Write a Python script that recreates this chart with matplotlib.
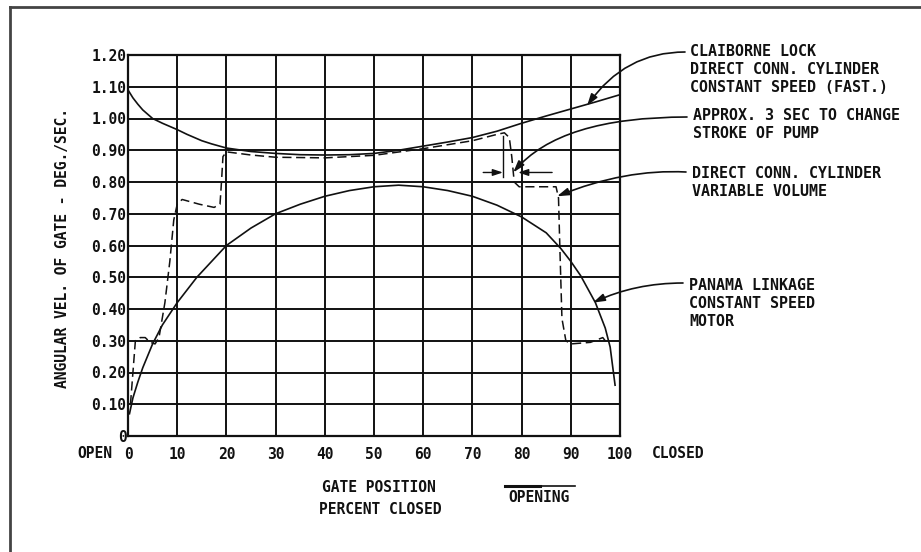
import matplotlib
matplotlib.use("Agg")
import matplotlib.pyplot as plt
from matplotlib.lines import Line2D

# ---------------- data ----------------
x_ticks = [0, 10, 20, 30, 40, 50, 60, 70, 80, 90, 100]
y_ticks = [0, 0.1, 0.2, 0.3, 0.4, 0.5, 0.6, 0.7, 0.8, 0.9, 1.0, 1.1, 1.2]
y_tick_labels = ["0", "0.10", "0.20", "0.30", "0.40", "0.50", "0.60",
                 "0.70", "0.80", "0.90", "1.00", "1.10", "1.20"]

# Claiborne lock - direct conn. cylinder, constant speed (fast)
claiborne_x = [0, 1, 2, 3, 5, 7, 10, 12, 15, 17, 20, 25, 30, 35, 40, 45, 50,
               55, 60, 65, 70, 75, 80, 85, 90, 95, 100]
claiborne_y = [1.09, 1.065, 1.045, 1.027, 1.00, 0.985, 0.965, 0.95, 0.93,
               0.92, 0.907, 0.896, 0.89, 0.886, 0.885, 0.886, 0.89, 0.90,
               0.913, 0.926, 0.94, 0.96, 0.985, 1.008, 1.03, 1.052, 1.075]

# Panama linkage - constant speed motor
panama_x = [0.3, 1, 2, 3, 5, 7, 10, 14, 20, 25, 30, 35, 40, 45, 50, 55, 60,
            65, 70, 75, 80, 85, 88, 90, 92, 95, 97, 98, 99]
panama_y = [0.07, 0.12, 0.17, 0.215, 0.29, 0.35, 0.42, 0.50, 0.60, 0.655,
            0.70, 0.73, 0.755, 0.773, 0.785, 0.79, 0.785, 0.773, 0.755,
            0.727, 0.69, 0.64, 0.59, 0.55, 0.505, 0.42, 0.34, 0.28, 0.16]

# Direct conn. cylinder - variable volume (dashed)
variable_x = [0.5, 1.0, 1.5, 2.5, 3.5, 4.5, 5.5, 6.3, 7.5, 8.5, 9.3, 10.0,
              11, 14.5, 17.5, 18.7, 19.0, 19.3, 20, 25, 30, 40, 50, 60, 70,
              75, 76.5, 77.5, 78.0, 78.5, 79.5, 83, 87, 87.5, 87.8, 88.2,
              89, 90, 94, 96.5, 97.5]
variable_y = [0.10, 0.20, 0.30, 0.31, 0.31, 0.295, 0.29, 0.31, 0.42, 0.55,
              0.68, 0.73, 0.745, 0.73, 0.72, 0.73, 0.80, 0.88, 0.895, 0.885,
              0.878, 0.876, 0.884, 0.905, 0.93, 0.95, 0.955, 0.94, 0.88,
              0.80, 0.785, 0.785, 0.785, 0.75, 0.58, 0.37, 0.30, 0.29,
              0.295, 0.31, 0.29]

# ---------------- figure ----------------
FONT = "DejaVu Sans Mono"
plt.rcParams["font.family"] = [FONT]
plt.rcParams["font.weight"] = "bold"
INK = "#111111"
W, H = 921, 552
fig = plt.figure(figsize=(W / 100, H / 100), dpi=100)
fig.patch.set_facecolor("white")

ax = fig.add_axes([128 / W, 1 - 436 / H, (620 - 128) / W, (436 - 55) / H])
ax.set_xlim(0, 100)
ax.set_ylim(0, 1.2)
ax.set_xticks(x_ticks)
ax.set_xticklabels([str(v) for v in x_ticks], fontweight="bold")
ax.set_yticks(y_ticks)
ax.set_yticklabels(y_tick_labels, fontweight="bold")
ax.tick_params(axis="both", length=0, labelsize=10.5, colors=INK)
ax.tick_params(axis="x", pad=8)
ax.tick_params(axis="y", pad=1)
ax.grid(True, color=INK, linewidth=1.4)
for s in ax.spines.values():
    s.set_color(INK)
    s.set_linewidth(1.6)

ax.plot(claiborne_x, claiborne_y, color=INK, lw=1.2)
ax.plot(panama_x, panama_y, color=INK, lw=1.2)
ax.plot(variable_x, variable_y, color=INK, lw=1.1, linestyle=(0, (6, 3)))

# dimension marker for the 3 sec change
ax.plot([76.2, 76.2], [0.815, 0.945], color=INK, lw=1.0)
ax.annotate("", xy=(76.2, 0.83), xytext=(72.2, 0.83),
            arrowprops=dict(arrowstyle="-|>,head_length=0.6,head_width=0.2",
                            color=INK, lw=1.0, shrinkA=0, shrinkB=0))
ax.annotate("", xy=(79.3, 0.83), xytext=(86.2, 0.83),
            arrowprops=dict(arrowstyle="-|>,head_length=0.6,head_width=0.2",
                            color=INK, lw=1.0, shrinkA=0, shrinkB=0))

# ---------------- annotations ----------------
def fp(xp, yp):
    return (xp, H - yp)

notes = [
    (["CLAIBORNE LOCK", "DIRECT CONN. CYLINDER", "CONSTANT SPEED (FAST.)"],
     690, 52, (685, 52), (93.3, 1.04), "angle3,angleA=0,angleB=55"),
    (["APPROX. 3 SEC TO CHANGE", "STROKE OF PUMP"],
     693, 116, (687, 117), (78.3, 0.83), "angle3,angleA=0,angleB=50"),
    (["DIRECT CONN. CYLINDER", "VARIABLE VOLUME"],
     692, 173, (686, 172), (87.2, 0.755), "angle3,angleA=-3,angleB=22"),
    (["PANAMA LINKAGE", "CONSTANT SPEED", "MOTOR"],
     689, 286, (683, 283), (94.5, 0.42), "angle3,angleA=0,angleB=25"),
]
for lines, tx, ty, start, target, conn in notes:
    for i, ln in enumerate(lines):
        fig.text(tx / W, 1 - (ty + i * 18) / H, ln, fontsize=10.8,
                 fontweight="bold", ha="left", va="center", color=INK)
    ax.annotate("", xy=target, xycoords="data", xytext=fp(*start),
                textcoords="figure pixels",
                arrowprops=dict(arrowstyle="-|>,head_length=0.7,head_width=0.22",
                                color=INK, lw=1.2, shrinkA=0, shrinkB=0,
                                connectionstyle=conn))

# axis end labels
fig.text(95 / W, 1 - 453 / H, "OPEN", fontsize=10.5, fontweight="bold",
         ha="center", va="center", color=INK)
fig.text(678 / W, 1 - 453 / H, "CLOSED", fontsize=10.5, fontweight="bold",
         ha="center", va="center", color=INK)

# x title
fig.text(379 / W, 1 - 488 / H, "GATE POSITION", fontsize=10.5,
         fontweight="bold", ha="center", va="center", color=INK)
fig.text(380 / W, 1 - 510 / H, "PERCENT CLOSED", fontsize=10.5,
         fontweight="bold", ha="center", va="center", color=INK)
fig.text(539 / W, 1 - 498 / H, "OPENING", fontsize=10.5, fontweight="bold",
         ha="center", va="center", color=INK)
fig.add_artist(Line2D([505 / W, 575 / W], [1 - 486 / H, 1 - 486 / H],
                      transform=fig.transFigure, color=INK, lw=1.2))
fig.add_artist(Line2D([505 / W, 540 / W], [1 - 485.5 / H, 1 - 485.5 / H],
                      transform=fig.transFigure, color=INK, lw=2.2))

# y title
fig.text(63 / W, 1 - 248 / H, "ANGULAR VEL. OF GATE - DEG./SEC.",
         fontsize=10.5, fontweight="bold", rotation=90, ha="center",
         va="center", color=INK)

# page frame (top and left edges)
fig.add_artist(Line2D([10 / W, 1.0], [1 - 7 / H, 1 - 7 / H],
                      transform=fig.transFigure, color="#444444", lw=2))
fig.add_artist(Line2D([10 / W, 10 / W], [0, 1 - 7 / H],
                      transform=fig.transFigure, color="#444444", lw=2))

fig.savefig("out.png", dpi=100, facecolor="white")
